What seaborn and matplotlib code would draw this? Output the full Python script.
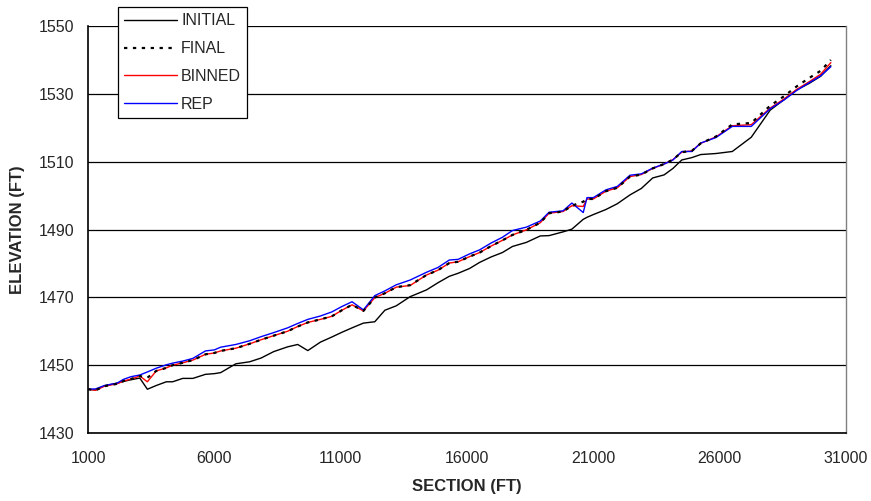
import pandas as pd
import matplotlib.pyplot as plt
import seaborn as sns

# ==================== 数据 ====================
SECTION = [1000, 1300, 1650, 2150, 2400, 2700, 3050, 3350, 3700, 4100,
           4350, 4750, 5150, 5650, 6000, 6250, 6850, 7400, 7850, 8350,
           8900, 9300, 9700, 10200, 10650, 11050, 11450, 11900, 12350, 12750,
           13200, 13750, 14400, 14850, 15300, 15650, 16100, 16500, 16950, 17400,
           17800, 18350, 18900, 19250, 19800, 20150, 20600, 20750, 21000, 21500,
           21950, 22450, 22900, 23350, 23800, 24150, 24500, 24900, 25250, 25850,
           26500, 27250, 28000, 28550, 29050, 29550, 30000, 30400]

INITIAL = [1442.9, 1442.7, 1443.9, 1444.7, 1445.2, 1445.7, 1446.2, 1442.9, 1444.0, 1445.1,
           1445.1, 1446.1, 1446.1, 1447.3, 1447.5, 1447.8, 1450.4, 1451.0, 1452.1, 1454.0,
           1455.4, 1456.1, 1454.3, 1456.8, 1458.3, 1459.7, 1461.0, 1462.4, 1462.8, 1466.2,
           1467.5, 1470.2, 1472.2, 1474.3, 1476.2, 1477.1, 1478.5, 1480.3, 1481.9, 1483.2,
           1485.0, 1486.2, 1488.1, 1488.2, 1489.3, 1490.1, 1493.0, 1493.6, 1494.4, 1495.9,
           1497.6, 1500.2, 1502.1, 1505.2, 1506.1, 1508.0, 1510.5, 1511.2, 1512.1, 1512.4,
           1513.0, 1517.2, 1525.2, 1528.3, 1531.2, 1533.1, 1535.2, 1538.3]

FINAL = [1442.9, 1442.6, 1443.8, 1444.5, 1445.3, 1445.9, 1446.8, 1446.3, 1448.3, 1449.2,
         1450.0, 1450.7, 1451.5, 1453.2, 1453.6, 1454.2, 1455.0, 1456.3, 1457.5, 1458.7,
         1460.0, 1461.4, 1462.6, 1463.5, 1464.4, 1466.2, 1467.8, 1466.0, 1469.9, 1471.2,
         1473.0, 1473.6, 1476.6, 1478.0, 1480.1, 1480.5, 1482.0, 1483.2, 1485.1, 1486.8,
         1488.4, 1489.9, 1492.0, 1494.8, 1495.3, 1497.0, 1498.2, 1499.0, 1499.0, 1501.3,
         1502.3, 1505.6, 1506.2, 1508.0, 1509.3, 1510.6, 1512.8, 1513.2, 1515.4, 1517.4,
         1521.0, 1521.4, 1526.5, 1529.3, 1532.2, 1534.7, 1536.8, 1540.0]

BINNED = [1442.9, 1442.6, 1443.8, 1444.5, 1445.3, 1445.9, 1446.8, 1445.1, 1448.3, 1449.2,
          1450.0, 1450.7, 1451.5, 1453.2, 1453.6, 1454.2, 1455.0, 1456.3, 1457.5, 1458.7,
          1460.0, 1461.4, 1462.6, 1463.5, 1464.4, 1466.2, 1467.8, 1466.0, 1469.9, 1471.2,
          1473.0, 1473.5, 1476.6, 1478.0, 1480.1, 1480.5, 1482.0, 1483.2, 1485.1, 1486.8,
          1488.4, 1489.9, 1492.0, 1494.8, 1495.3, 1497.0, 1496.8, 1499.0, 1499.0, 1501.3,
          1502.3, 1505.6, 1506.2, 1508.0, 1509.3, 1510.6, 1512.8, 1513.2, 1515.4, 1517.3,
          1520.6, 1520.9, 1525.8, 1528.5, 1531.3, 1533.6, 1535.8, 1539.2]

REP = [1442.9, 1443.0, 1444.0, 1444.7, 1445.8, 1446.6, 1447.1, 1448.0, 1449.1, 1450.1,
       1450.6, 1451.2, 1452.0, 1454.2, 1454.5, 1455.3, 1456.1, 1457.2, 1458.4, 1459.6,
       1461.0, 1462.3, 1463.5, 1464.5, 1465.7, 1467.3, 1468.7, 1466.3, 1470.5, 1471.9,
       1473.7, 1475.1, 1477.4, 1478.8, 1481.0, 1481.2, 1482.8, 1484.0, 1486.0, 1487.7,
       1489.7, 1490.7, 1492.5, 1495.1, 1495.5, 1497.8, 1495.0, 1499.4, 1499.4, 1501.7,
       1502.7, 1506.0, 1506.4, 1508.1, 1509.3, 1510.5, 1513.0, 1513.0, 1515.5, 1517.1,
       1520.4, 1520.4, 1525.6, 1528.2, 1531.0, 1533.3, 1535.3, 1538.0]

X_TICKS = [1000, 6000, 11000, 16000, 21000, 26000, 31000]
Y_TICKS = [1430, 1450, 1470, 1490, 1510, 1530, 1550]

df = pd.DataFrame({"SECTION": SECTION, "INITIAL": INITIAL, "FINAL": FINAL,
                   "BINNED": BINNED, "REP": REP})

# ==================== 绘图 ====================
sns.set_style("white")
plt.rcParams['font.family'] = ['Liberation Sans', 'DejaVu Sans']

fig = plt.figure(figsize=(8.71, 5.01), dpi=100)
ax = fig.add_axes([88 / 871, 1 - 433 / 501, (846 - 88) / 871, (433 - 26) / 501])

# 名称, 颜色, 线型, 线宽, 层级
styles = [
    ("INITIAL", "black", "-", 1.0, 2),
    ("FINAL", "black", (0, (1.5, 2.5)), 1.6, 5),
    ("BINNED", "#ff0000", "-", 1.0, 3),
    ("REP", "#0000ff", "-", 1.0, 4),
]
for name, color, ls, lw, z in styles:
    sns.lineplot(data=df, x="SECTION", y=name, ax=ax, color=color,
                 linestyle=ls, linewidth=lw, label=name, zorder=z)

ax.set_xlim(1000, 31000)
ax.set_ylim(1430, 1550)
ax.set_xticks(X_TICKS)
ax.set_yticks(Y_TICKS)
ax.tick_params(axis='both', direction='out', length=5, width=1, color='black',
               labelsize=11.5)
ax.tick_params(axis='y', pad=5)
ax.tick_params(axis='x', pad=8)
ax.yaxis.grid(True, color='black', linewidth=0.9)
ax.xaxis.grid(False)
ax.set_axisbelow(True)

for side in ['left', 'bottom']:
    ax.spines[side].set_color('black')
    ax.spines[side].set_linewidth(1.2)
ax.spines['top'].set_visible(False)
ax.spines['right'].set_color('#808080')
ax.spines['right'].set_linewidth(1.0)

ax.set_xlabel("SECTION (FT)", fontsize=12, fontweight='bold', labelpad=9)
ax.set_ylabel("ELEVATION (FT)", fontsize=12, fontweight='bold', labelpad=10)

leg = ax.legend(loc='upper left', bbox_to_anchor=(118 / 871, 1 - 7 / 501),
                bbox_transform=fig.transFigure, borderaxespad=0, frameon=True,
                fancybox=False, fontsize=11.5, handlelength=3.3, handletextpad=0.25,
                labelspacing=0.8, borderpad=0.4)
leg.get_frame().set_edgecolor('black')
leg.get_frame().set_linewidth(0.9)
leg.get_frame().set_alpha(1)
leg.set_zorder(10)

plt.savefig("out.png", dpi=100)
plt.close()
